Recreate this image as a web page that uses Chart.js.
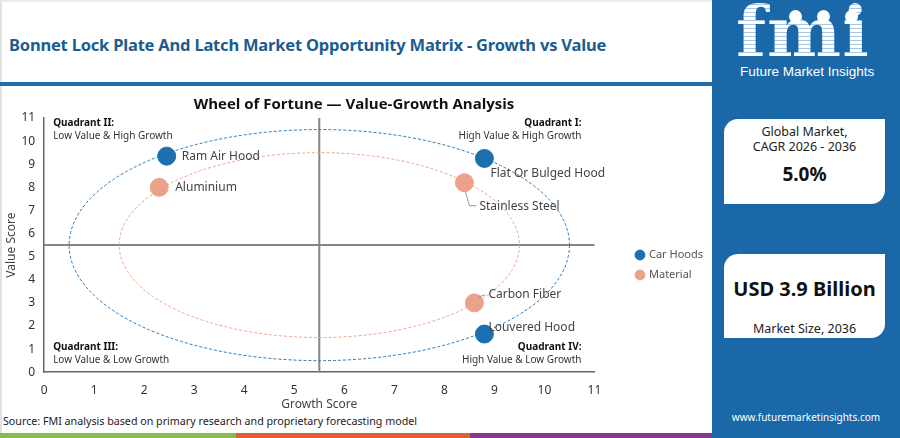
<!DOCTYPE html>
<html>
<head>
<meta charset="utf-8">
<script src="https://cdn.jsdelivr.net/npm/chart.js@4.4.1/dist/chart.umd.min.js"></script>
<style>
  html, body { margin: 0; padding: 0; }
  body { width: 900px; height: 438px; position: relative; overflow: hidden; background: #fff; font-family: "Noto Sans", sans-serif; }
  .frame { position: absolute; left: 0; top: 0; width: 710px; height: 436px; border-left: 2px solid #e2e2e2; border-top: 2px solid #ececec; }
  .head { position: absolute; left: 9px; top: 33px; font-size: 16.5px; font-weight: 700; color: #1b5d8e; letter-spacing: -0.2px; white-space: nowrap; }
  .rule { position: absolute; left: 0; top: 82px; width: 712px; height: 4px; background: #1f6eab; }
  .wrap { position: absolute; left: 0; top: 88px; width: 712px; height: 324px; }
  .src { position: absolute; left: 3px; top: 414px; font-size: 10.7px; color: #222; white-space: nowrap; }
  .bar { position: absolute; top: 433px; height: 5px; }
  .panel { position: absolute; left: 712px; top: 0; width: 188px; height: 438px; background: #1a68a8; }
  .logo { position: absolute; left: 736px; top: -3px; font-family: "DejaVu Serif", serif; font-weight: 700; font-size: 70px; letter-spacing: 1px; line-height: 1;
          background: repeating-linear-gradient(180deg, #ffffff 0 3px, #a9c6e0 3px 4px); -webkit-background-clip: text; background-clip: text; color: transparent; }
  .globe { position: absolute; top: 10px; width: 13px; height: 13px; border-radius: 50%; background: #fff; }
  .brand { position: absolute; left: 740px; top: 64px; font-family: "Liberation Sans Narrow", "Liberation Sans", sans-serif; font-size: 13.5px; color: #fff; white-space: nowrap; }
  .card { position: absolute; left: 724px; width: 161px; background: #fff; border-radius: 14px 0 14px 0; text-align: center; color: #222; }
  .card .t { font-size: 12.5px; line-height: 15px; }
  .card .b { font-weight: 700; color: #111; }
  .web { position: absolute; left: 712px; width: 188px; top: 410px; text-align: center; font-size: 10px; color: #fff; }
</style>
</head>
<body>
<div class="frame"></div>
<div class="head">Bonnet Lock Plate And Latch Market Opportunity Matrix - Growth vs Value</div>
<div class="rule"></div>
<div class="wrap"><canvas id="matrix"></canvas></div>
<div class="src">Source: FMI analysis based on primary research and proprietary forecasting model</div>
<div class="bar" style="left:0;width:236px;background:#86bf45;"></div>
<div class="bar" style="left:236px;width:234px;background:#e0622b;"></div>
<div class="bar" style="left:470px;width:242px;background:#8a3590;"></div>

<div class="panel"></div>
<div class="logo">fmi</div>
<div class="globe" style="left:789px;"></div>
<div class="globe" style="left:817px;"></div>
<div class="globe" style="left:845px;"></div>
<div class="brand">Future Market Insights</div>
<div class="card" style="top:119px;height:85px;">
  <div class="t" style="margin-top:5px;">Global Market,</div>
  <div class="t">CAGR 2026 - 2036</div>
  <div class="b" style="font-size:19px;margin-top:7px;">5.0%</div>
</div>
<div class="card" style="top:254px;height:84px;">
  <div class="b" style="font-size:20px;margin-top:21px;">USD 3.9 Billion</div>
  <div class="t" style="margin-top:19px;">Market Size, 2036</div>
</div>
<div class="web">www.futuremarketinsights.com</div>

<script>
const carHoodNames = ["Ram Air Hood", "Flat Or Bulged Hood", "Louvered Hood"];
const carHoodGrowth = [2.45, 8.8, 8.8];
const carHoodValue = [9.35, 9.25, 1.65];

const materialNames = ["Aluminium", "Stainless Steel", "Carbon Fiber"];
const materialGrowth = [2.3, 8.4, 8.6];
const materialValue = [8.0, 8.2, 3.0];

const axisTicks = [0, 1, 2, 3, 4, 5, 6, 7, 8, 9, 10, 11];
const midpoint = 5.5;

// guide rings: radius in score units around the midpoint
const rings = [
  { r: 5, color: "#2a78b5" },
  { r: 4, color: "#eba58e" }
];

const blue = "#1b6fae";
const peach = "#eaa28a";

// where each label sits relative to its bubble (pixels)
const labelStyle = {
  "Ram Air Hood":        { dx: 15, dy: 0 },
  "Aluminium":           { dx: 16, dy: 0 },
  "Flat Or Bulged Hood": { dx: 6,  dy: 15 },
  "Stainless Steel":     { dx: 15, dy: 24, lead: [[1, 9], [5, 23], [12, 23]] },
  "Carbon Fiber":        { dx: 14, dy: -8, lead: [[4, -6], [11, -8]] },
  "Louvered Hood":       { dx: 4,  dy: -6 }
};

// legend sits further right and lower than Chart.js would put it
const legendGap = 24;
const legendShift = 33;
const legendDrop = 15;

const toPoints = (xs, ys) => xs.map((x, i) => ({ x: x, y: ys[i] }));

const guides = {
  id: "guides",
  beforeInit(chart) {
    const fit = chart.legend.fit;
    chart.legend.fit = function () {
      fit.call(this);
      this.width += legendGap;
    };
  },
  afterLayout(chart) {
    const lg = chart.legend;
    lg.left += legendShift;
    lg.top += legendDrop;
    lg.bottom += legendDrop;
  },
  beforeDatasetsDraw(chart) {
    const { ctx, chartArea: a, scales: { x, y } } = chart;
    ctx.save();
    // quadrant dividers
    ctx.strokeStyle = "#858585";
    ctx.lineWidth = 2;
    ctx.beginPath();
    const mx = x.getPixelForValue(midpoint), my = y.getPixelForValue(midpoint);
    ctx.moveTo(mx, a.top); ctx.lineTo(mx, a.bottom);
    ctx.moveTo(a.left, my); ctx.lineTo(a.right, my);
    ctx.stroke();
    // dashed rings
    ctx.lineWidth = 1;
    ctx.setLineDash([3, 2]);
    rings.forEach(g => {
      const rx = Math.abs(x.getPixelForValue(midpoint + g.r) - mx);
      const ry = Math.abs(y.getPixelForValue(midpoint + g.r) - my);
      ctx.strokeStyle = g.color;
      ctx.beginPath();
      ctx.ellipse(mx, my, rx, ry, 0, 0, Math.PI * 2);
      ctx.stroke();
    });
    ctx.setLineDash([]);
    // quadrant captions
    ctx.textBaseline = "middle";
    const cap = (t, s, px, py, align) => {
      ctx.textAlign = align;
      ctx.fillStyle = "#111";
      ctx.font = "bold 10px 'Noto Sans', sans-serif";
      ctx.fillText(t, px, py);
      ctx.fillStyle = "#333";
      ctx.font = "10px 'Noto Sans', sans-serif";
      ctx.fillText(s, px, py + 13);
    };
    cap("Quadrant II:", "Low Value & High Growth", a.left + 9, a.top + 5, "left");
    cap("Quadrant I:", "High Value & High Growth", a.right - 13, a.top + 5, "right");
    cap("Quadrant III:", "Low Value & Low Growth", a.left + 9, a.bottom - 25, "left");
    cap("Quadrant IV:", "High Value & Low Growth", a.right - 13, a.bottom - 25, "right");
    ctx.restore();
  },
  afterDatasetsDraw(chart) {
    const { ctx } = chart;
    ctx.save();
    ctx.font = "12px 'Noto Sans', sans-serif";
    ctx.fillStyle = "#444";
    ctx.textAlign = "left";
    ctx.textBaseline = "middle";
    chart.data.datasets.forEach((ds, di) => {
      chart.getDatasetMeta(di).data.forEach((el, i) => {
        const name = ds.names[i];
        const st = labelStyle[name];
        if (st.lead) {
          ctx.strokeStyle = "#999";
          ctx.lineWidth = 1;
          ctx.beginPath();
          st.lead.forEach((p, k) => k ? ctx.lineTo(el.x + p[0], el.y + p[1]) : ctx.moveTo(el.x + p[0], el.y + p[1]));
          ctx.stroke();
        }
        ctx.fillText(name, el.x + st.dx, el.y + st.dy);
      });
    });
    ctx.restore();
  }
};

new Chart("matrix", {
  type: "scatter",
  data: {
    datasets: [
      { label: "Car Hoods", names: carHoodNames, data: toPoints(carHoodGrowth, carHoodValue),
        backgroundColor: blue, borderColor: blue, pointRadius: 9, pointHoverRadius: 9 },
      { label: "Material", names: materialNames, data: toPoints(materialGrowth, materialValue),
        backgroundColor: peach, borderColor: peach, pointRadius: 9, pointHoverRadius: 9 }
    ]
  },
  options: {
    responsive: true,
    maintainAspectRatio: false,
    animation: false,
    layout: { padding: { left: 4, right: 8, top: 0, bottom: 0 } },
    plugins: {
      tooltip: { enabled: false },
      title: {
        display: true,
        text: "Wheel of Fortune \u2014 Value-Growth Analysis",
        color: "#111",
        font: { family: "'Open Sans', sans-serif", size: 15, weight: "bold" },
        padding: { top: 8, bottom: 4 }
      },
      legend: {
        position: "right",
        labels: {
          usePointStyle: true, pointStyle: "circle", boxWidth: 7, boxHeight: 7,
          padding: 9, color: "#555",
          font: { family: "'Noto Sans', sans-serif", size: 11 }
        }
      }
    },
    scales: {
      x: {
        type: "linear", min: 0, max: 11,
        afterBuildTicks: s => { s.ticks = axisTicks.map(v => ({ value: v })); },
        grid: { display: false, drawTicks: false },
        border: { display: true, color: "#666", width: 1.5 },
        ticks: { color: "#333", padding: 11, font: { family: "'Noto Sans', sans-serif", size: 12 } },
        title: { display: true, text: "Growth Score", color: "#444", padding: { top: -11, bottom: 0 },
                 font: { family: "'Noto Sans', sans-serif", size: 12 } }
      },
      y: {
        type: "linear", min: 0, max: 11,
        afterBuildTicks: s => { s.ticks = axisTicks.map(v => ({ value: v })); },
        grid: { display: false, drawTicks: false },
        border: { display: true, color: "#666", width: 1.5 },
        ticks: { color: "#333", padding: 9, font: { family: "'Noto Sans', sans-serif", size: 12 } },
        title: { display: true, text: "Value Score", color: "#444", padding: { top: 0, bottom: -6 },
                 font: { family: "'Noto Sans', sans-serif", size: 12 } }
      }
    }
  },
  plugins: [guides]
});
</script>
</body>
</html>
